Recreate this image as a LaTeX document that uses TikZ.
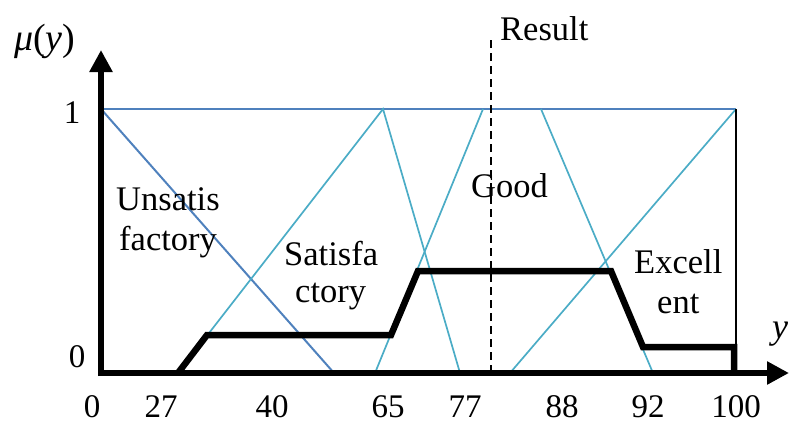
\documentclass[tikz,border=0pt]{standalone}
\usepackage{fontspec}
\setmainfont{Liberation Serif}
\usetikzlibrary{arrows.meta}
\definecolor{mfblue}{HTML}{4F81BD}
\definecolor{mfaqua}{HTML}{4BACC6}
\begin{document}
\begin{tikzpicture}[x=1pt,y=-1pt,
  lbl/.style={font=\fontsize{34.5}{40}\selectfont, inner sep=0pt, anchor=base west},
  num/.style={font=\fontsize{33}{40}\selectfont, inner sep=0pt, anchor=base},
  bluel/.style={draw=mfblue, line width=2pt},
  aqual/.style={draw=mfaqua, line width=1.7pt},
  axisl/.style={draw=black, line width=6pt, -{Triangle[length=22pt,width=22pt]}},
  outl/.style={draw=black, line width=6.5pt, line join=miter},
  resl/.style={draw=black, line width=2pt, dash pattern=on 8pt off 5pt}]
\useasboundingbox (0,0) rectangle (789,423);
% coordinates
\coordinate (O) at (101,373);
\coordinate (Y1) at (101,109);
\coordinate (Ytip) at (101,50);
\coordinate (Xtip) at (789,373);
\coordinate (Xs) at (98,373);
\coordinate (Ys) at (101,376);
\coordinate (Stop) at (383,109);
\coordinate (Gtl) at (483,109);
\coordinate (Gtr) at (541,109);
\coordinate (Etop) at (736,109);
\coordinate (U0) at (334,373);
\coordinate (S0) at (178,373);
\coordinate (S1) at (460,373);
\coordinate (G0) at (375,373);
\coordinate (G1) at (653,373);
\coordinate (E0) at (510,373);
\coordinate (E1) at (736,373);
\coordinate (Rtop) at (491,40);
\coordinate (Rbot) at (491,373);
% membership functions
\draw[bluel] (Y1) -- (Etop);
\draw[bluel] (Y1) -- (U0);
\draw[aqual] (S0) -- (Stop) -- (S1);
\draw[aqual] (G0) -- (Gtl);
\draw[aqual] (Gtr) -- (G1);
\draw[aqual] (E0) -- (Etop);
\draw[black, line width=1.5pt] (Etop) -- (E1);
% result
\draw[resl] (Rtop) -- (Rbot);
% aggregated output
\coordinate (P1) at (207,335);
\coordinate (P2) at (391,335);
\coordinate (P3) at (418,271);
\coordinate (P4) at (611,271);
\coordinate (P5) at (643,347);
\coordinate (P6) at (734,347);
\coordinate (P7) at (734,373);
\draw[outl] (S0) -- (P1) -- (P2) -- (P3) -- (P4) -- (P5) -- (P6) -- (P7);
% axes
\draw[axisl] (Ys) -- (Ytip);
\draw[axisl] (Xs) -- (Xtip);
% labels
\node[lbl, font=\fontsize{38}{40}\selectfont] (mu) at (14,50) {\textit{μ}(\textit{y})};
\node[lbl, font=\fontsize{36}{40}\selectfont] (yl) at (772,338) {\textit{y}};
\node[num] (l1) at (72,123) {1};
\node[num] (l0) at (77,367) {0};
\node[lbl] (res) at (500,40) {Result};
\node[lbl] (un1) at (116,210) {Unsatis};
\node[lbl] (un2) at (119,250) {factory};
\node[lbl] (sa1) at (284,265) {Satisfa};
\node[lbl] (sa2) at (295,302) {ctory};
\node[lbl] (go) at (471,197) {Good};
\node[lbl] (ex1) at (634,273) {Excell};
\node[lbl] (ex2) at (657,313) {ent};
\node[num] (t0) at (92,417) {0};
\node[num] (t27) at (161,417) {27};
\node[num] (t40) at (272,417) {40};
\node[num] (t65) at (388,417) {65};
\node[num] (t77) at (465,417) {77};
\node[num] (t88) at (562,417) {88};
\node[num] (t92) at (648,417) {92};
\node[num] (t100) at (736,417) {100};
\end{tikzpicture}
\end{document}
